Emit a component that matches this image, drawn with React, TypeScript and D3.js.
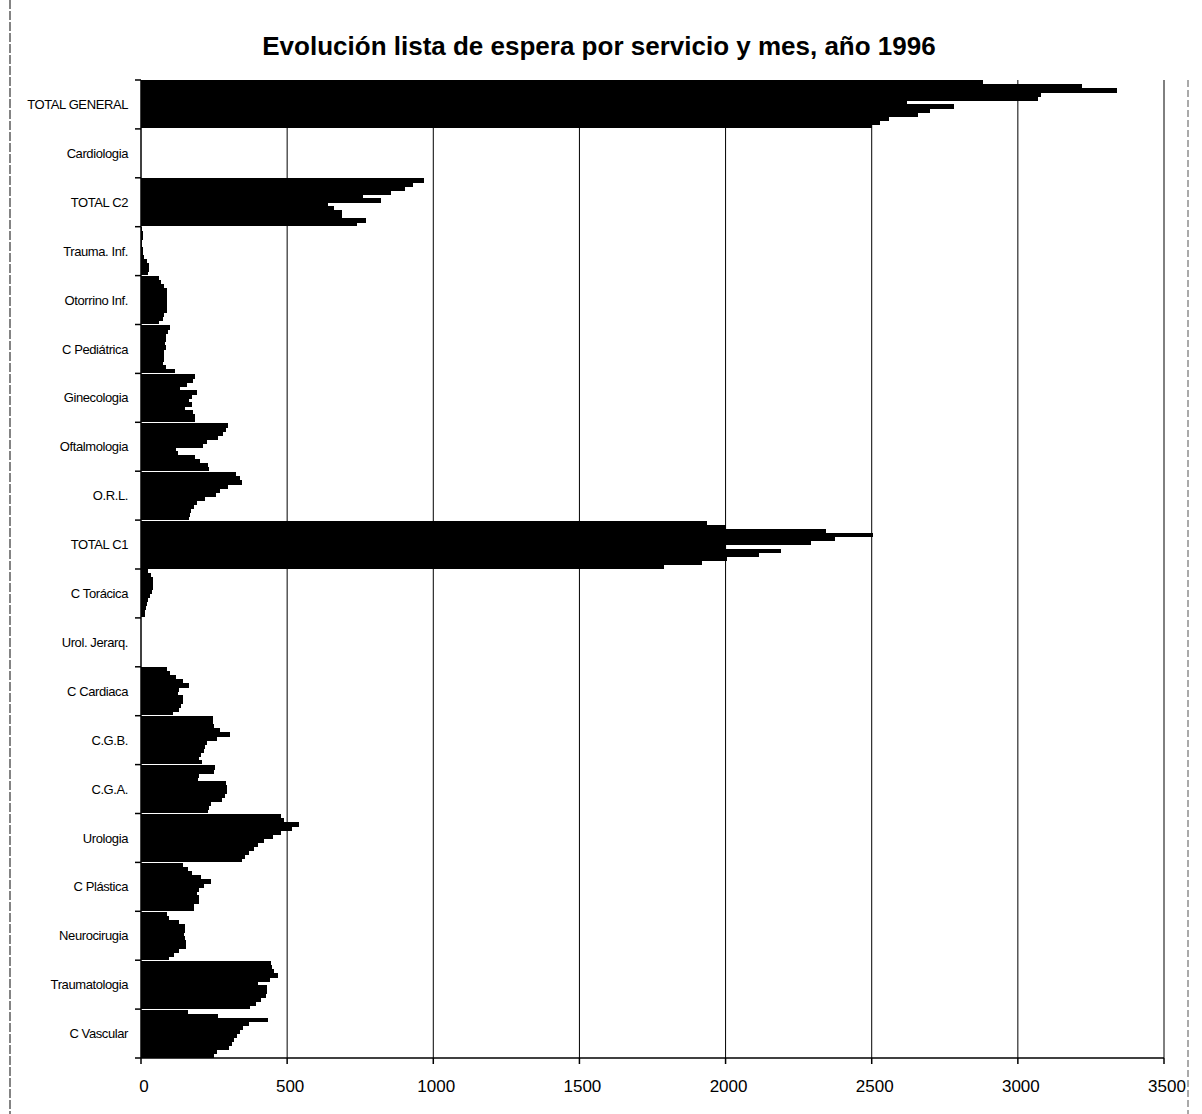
import React from "react";
import * as d3 from "d3";

const title = "Evolución lista de espera por servicio y mes, año 1996";

// categories, top to bottom as shown
const categories = [
  "TOTAL GENERAL", "Cardiologia", "TOTAL C2", "Trauma. Inf.", "Otorrino Inf.",
  "C Pediátrica", "Ginecologia", "Oftalmologia", "O.R.L.", "TOTAL C1",
  "C Torácica", "Urol. Jerarq.", "C Cardiaca", "C.G.B.", "C.G.A.",
  "Urologia", "C Plástica", "Neurocirugia", "Traumatologia", "C Vascular",
];

// months: Ene drawn at the bottom of each group, Dic at the top
const months = ["Ene", "Feb", "Mar", "Abr", "May", "Jun", "Jul", "Ago", "Sep", "Oct", "Nov", "Dic"];

// values per service, Ene..Dic
const totalGeneral = [2500, 2530, 2560, 2660, 2700, 2780, 2620, 3070, 3080, 3340, 3220, 2880];
const cardiologia = [0, 0, 0, 0, 0, 0, 0, 0, 0, 0, 0, 0];
const totalC2 = [740, 769, 687, 687, 659, 640, 820, 760, 856, 903, 930, 967];
const traumaInf = [24, 28, 28, 20, 10, 8, 6, 5, 5, 6, 6, 4];
const otorrinoInf = [62, 75, 78, 88, 90, 90, 90, 90, 88, 80, 70, 60];
const cPediatrica = [118, 84, 76, 80, 78, 80, 84, 82, 86, 84, 92, 98];
const ginecologia = [184, 184, 178, 150, 176, 165, 174, 193, 134, 156, 178, 186];
const oftalmologia = [232, 230, 201, 184, 125, 121, 213, 226, 262, 280, 290, 297];
const orl = [165, 168, 172, 180, 190, 220, 255, 270, 296, 344, 337, 325];
const totalC1 = [1788, 1920, 2005, 2114, 2188, 2000, 2291, 2373, 2505, 2342, 2000, 1937];
const cToracica = [12, 15, 18, 20, 25, 32, 38, 40, 42, 40, 35, 25];
const urolJerarq = [0, 0, 0, 0, 0, 0, 0, 0, 0, 0, 0, 0];
const cCardiaca = [108, 130, 138, 145, 145, 128, 130, 165, 145, 120, 100, 90];
const cgb = [208, 200, 205, 215, 220, 225, 260, 305, 270, 250, 248, 245];
const cga = [230, 232, 240, 278, 288, 295, 293, 290, 195, 200, 250, 253];
const urologia = [345, 355, 370, 385, 400, 420, 450, 480, 515, 540, 490, 480];
const cPlastica = [180, 182, 198, 200, 192, 198, 215, 238, 205, 175, 160, 145];
const neurocirugia = [95, 112, 130, 155, 155, 150, 148, 152, 150, 130, 95, 88];
const traumatologia = [372, 395, 410, 428, 430, 432, 400, 440, 470, 455, 448, 445];
const cVascular = [250, 260, 300, 310, 318, 330, 340, 350, 370, 435, 265, 160];

const seriesByCategory = [
  totalGeneral, cardiologia, totalC2, traumaInf, otorrinoInf,
  cPediatrica, ginecologia, oftalmologia, orl, totalC1,
  cToracica, urolJerarq, cCardiaca, cgb, cga,
  urologia, cPlastica, neurocirugia, traumatologia, cVascular,
];

const xTicks = [0, 500, 1000, 1500, 2000, 2500, 3000, 3500];

export default function App() {
  const W = 1202, H = 1114;
  const left = 141, right = 1164, top = 80, bottom = 1058;

  const x = d3.scaleLinear().domain([0, 3500]).range([left, right]);
  const y = d3.scaleBand<string>().domain(categories).range([top, bottom]).paddingInner(0.02).paddingOuter(0.01);
  const yInner = d3.scaleBand<string>().domain([...months].reverse()).range([0, y.bandwidth()]).padding(0);

  const step = (bottom - top) / categories.length;
  const font = "'Liberation Sans', Arial, sans-serif";

  return (
    <svg width={W} height={H} style={{ position: "absolute", left: 0, top: 0, background: "#fff" }}>
      <rect x={0} y={0} width={W} height={H} fill="#fff" />
      {/* scanned frame edges */}
      <line x1={10} x2={10} y1={0} y2={H} stroke="#333" strokeWidth={1.2} strokeDasharray="9,2" />
      <line x1={1188} x2={1188} y1={80} y2={H} stroke="#555" strokeWidth={1} strokeDasharray="7,3" />

      <text x={599} y={55} textAnchor="middle" fontFamily={font} fontWeight="bold" fontSize={26} fill="#000">
        {title}
      </text>

      {/* gridlines */}
      {xTicks.filter((t) => t > 0).map((t) => (
        <line key={"g" + t} x1={x(t)} x2={x(t)} y1={top} y2={bottom} stroke="#000" strokeWidth={1} />
      ))}

      {/* bars */}
      {categories.map((c, ci) => (
        <g key={c} transform={`translate(0,${y(c)})`}>
          {seriesByCategory[ci].map((v, mi) => (
            v > 0 ? (
              <rect
                key={mi}
                x={x(0)}
                y={yInner(months[mi])}
                width={x(v) - x(0)}
                height={yInner.bandwidth() + (mi === 0 ? 0 : 0.9)}
                fill="#000"
                shapeRendering="crispEdges"
              />
            ) : null
          ))}
        </g>
      ))}

      {/* category axis */}
      <line x1={left} x2={left} y1={top} y2={bottom} stroke="#000" strokeWidth={1.5} />
      {d3.range(categories.length + 1).map((i) => (
        <line key={"ct" + i} x1={left - 6} x2={left} y1={top + i * step} y2={top + i * step} stroke="#000" strokeWidth={1.5} />
      ))}
      {categories.map((c) => (
        <text
          key={"l" + c}
          x={128}
          y={(y(c) as number) + y.bandwidth() / 2}
          dy="0.35em"
          textAnchor="end"
          fontFamily={font}
          fontSize={13}
          letterSpacing={-0.4}
          fill="#000"
        >
          {c}
        </text>
      ))}

      {/* value axis */}
      <line x1={left} x2={right} y1={bottom} y2={bottom} stroke="#000" strokeWidth={1.5} />
      {xTicks.map((t) => (
        <g key={"xt" + t}>
          <line x1={x(t)} x2={x(t)} y1={bottom} y2={bottom + 6} stroke="#000" strokeWidth={1.5} />
          <text x={x(t) + 3} y={1092} textAnchor="middle" fontFamily={font} fontSize={17} fill="#000">
            {t}
          </text>
        </g>
      ))}
    </svg>
  );
}
